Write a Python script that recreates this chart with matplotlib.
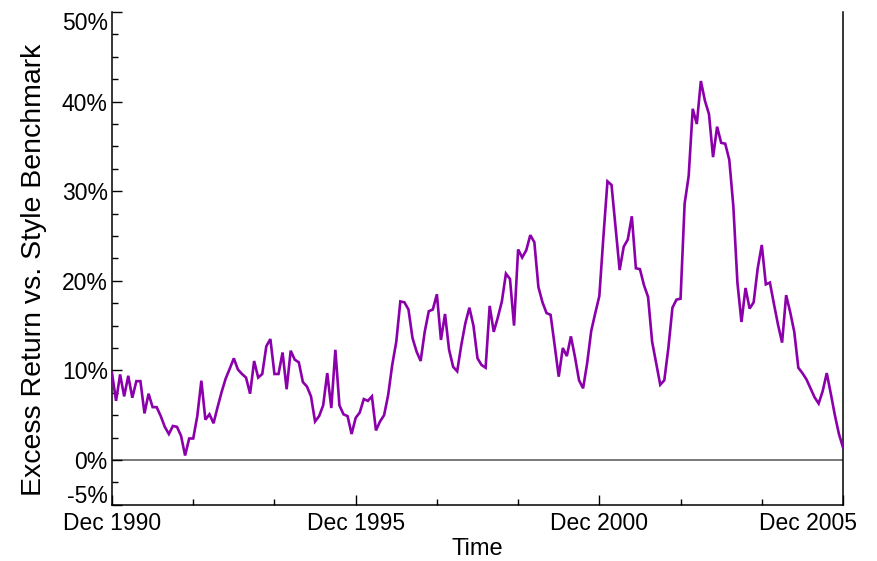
import matplotlib
matplotlib.use("Agg")
import matplotlib.pyplot as plt
import matplotlib.transforms as mtransforms
import numpy as np

# Monthly excess return (%) from Dec 1990 to Dec 2005
excess_return = [
    9.7, 6.6, 9.55, 7.1, 9.4, 6.95, 8.8, 8.8, 5.2, 7.4,
    5.9, 5.9, 4.9, 3.7, 2.9, 3.8, 3.7, 2.7, 0.5, 2.4,
    2.4, 4.9, 8.85, 4.5, 5.1, 4.1, 5.9, 7.6, 9.1, 10.2,
    11.35, 10.1, 9.6, 9.2, 7.4, 11.05, 9.2, 9.6, 12.7, 13.5,
    9.6, 9.6, 12.0, 7.9, 12.2, 11.2, 10.9, 8.7, 8.2, 7.1,
    4.3, 4.9, 6.1, 9.7, 5.8, 12.3, 6.1, 5.1, 4.9, 2.9,
    4.7, 5.3, 6.8, 6.6, 7.1, 3.3, 4.3, 5.0, 7.25, 10.6,
    13.2, 17.7, 17.6, 16.8, 13.6, 12.1, 11.05, 14.3, 16.6, 16.8,
    18.5, 13.4, 16.3, 12.3, 10.4, 9.9, 12.8, 15.25, 17.0, 15.0,
    11.35, 10.6, 10.3, 17.2, 14.3, 15.9, 17.7, 20.8, 20.2, 15.0,
    23.5, 22.6, 23.4, 25.1, 24.3, 19.3, 17.6, 16.4, 16.2, 12.8,
    9.3, 12.5, 11.6, 13.8, 11.5, 8.9, 8.0, 10.8, 14.4, 16.4,
    18.3, 24.9, 31.1, 30.7, 26.0, 21.2, 23.8, 24.6, 27.2, 21.4,
    21.3, 19.5, 18.2, 13.2, 10.8, 8.4, 8.9, 12.5, 17.0, 17.9,
    18.0, 28.6, 31.7, 39.2, 37.5, 42.3, 40.1, 38.6, 33.8, 37.2,
    35.4, 35.3, 33.5, 28.3, 19.8, 15.4, 19.2, 16.9, 17.6, 21.4,
    24.0, 19.6, 19.8, 17.4, 15.1, 13.1, 18.4, 16.5, 14.3, 10.3,
    9.7, 9.0, 8.0, 7.0, 6.3, 7.7, 9.7, 7.4, 5.0, 2.9,
    1.4,
]
month_index = list(range(len(excess_return)))

x_major_ticks = [0, 60, 120, 180]
x_major_labels = ["Dec 1990", "Dec 1995", "Dec 2000", "Dec 2005"]
x_minor_ticks = [20, 40, 80, 100, 140, 160]

y_major_ticks = [-5, 0, 10, 20, 30, 40, 50]
y_major_labels = ["-5%", "0%", "10%", "20%", "30%", "40%", "50%"]
y_minor_ticks = [2.5, 5, 7.5, 12.5, 15, 17.5, 22.5, 25, 27.5,
                 32.5, 35, 37.5, 42.5, 45, 47.5, -2.5]

line_color = "#8B00AA"

plt.rcParams['font.family'] = ['Liberation Sans', 'DejaVu Sans']

fig = plt.figure(figsize=(8.77, 5.61), dpi=100)
ax = fig.add_axes([112/877, 1 - 504.8/561, (843-112)/877, (504.8-12)/561])

ax.axhline(0, color="#555555", lw=1.1, zorder=1)
ax.plot(month_index, excess_return, color=line_color, lw=1.9, zorder=3,
        solid_joinstyle='miter')

ax.set_xlim(0, 180)
ax.set_ylim(-5, 50)

ax.spines['top'].set_visible(False)
for s in ['left', 'bottom', 'right']:
    ax.spines[s].set_linewidth(1.1)
    ax.spines[s].set_color('black')

ax.set_xticks(x_major_ticks)
ax.set_xticklabels(x_major_labels)
ax.set_xticks(x_minor_ticks, minor=True)
ax.set_yticks(y_major_ticks)
ax.set_yticklabels(y_major_labels)
ax.set_yticks(y_minor_ticks, minor=True)

ax.tick_params(axis='both', which='major', direction='in', length=7, width=1,
               labelsize=16.5, pad=4)
ax.tick_params(axis='both', which='minor', direction='in', length=4, width=1)
ax.tick_params(axis='y', which='major', pad=3)
ax.tick_params(axis='x', which='major', pad=5)

ylabels = ax.get_yticklabels()
ylabels[0].set_verticalalignment('bottom')
ylabels[0].set_transform(ylabels[0].get_transform() +
                         mtransforms.ScaledTranslation(0, -3/100, fig.dpi_scale_trans))
ylabels[-1].set_verticalalignment('top')

xlabels = ax.get_xticklabels()
xlabels[-1].set_horizontalalignment('right')
xlabels[-1].set_transform(xlabels[-1].get_transform() +
                          mtransforms.ScaledTranslation(14/100, 0, fig.dpi_scale_trans))

ax.set_xlabel("Time", fontsize=17, labelpad=2)
ax.set_ylabel("Excess Return vs. Style Benchmark", fontsize=20.5)
ax.yaxis.set_label_coords(-0.089, 0.476)

fig.savefig("out.png", dpi=100)
